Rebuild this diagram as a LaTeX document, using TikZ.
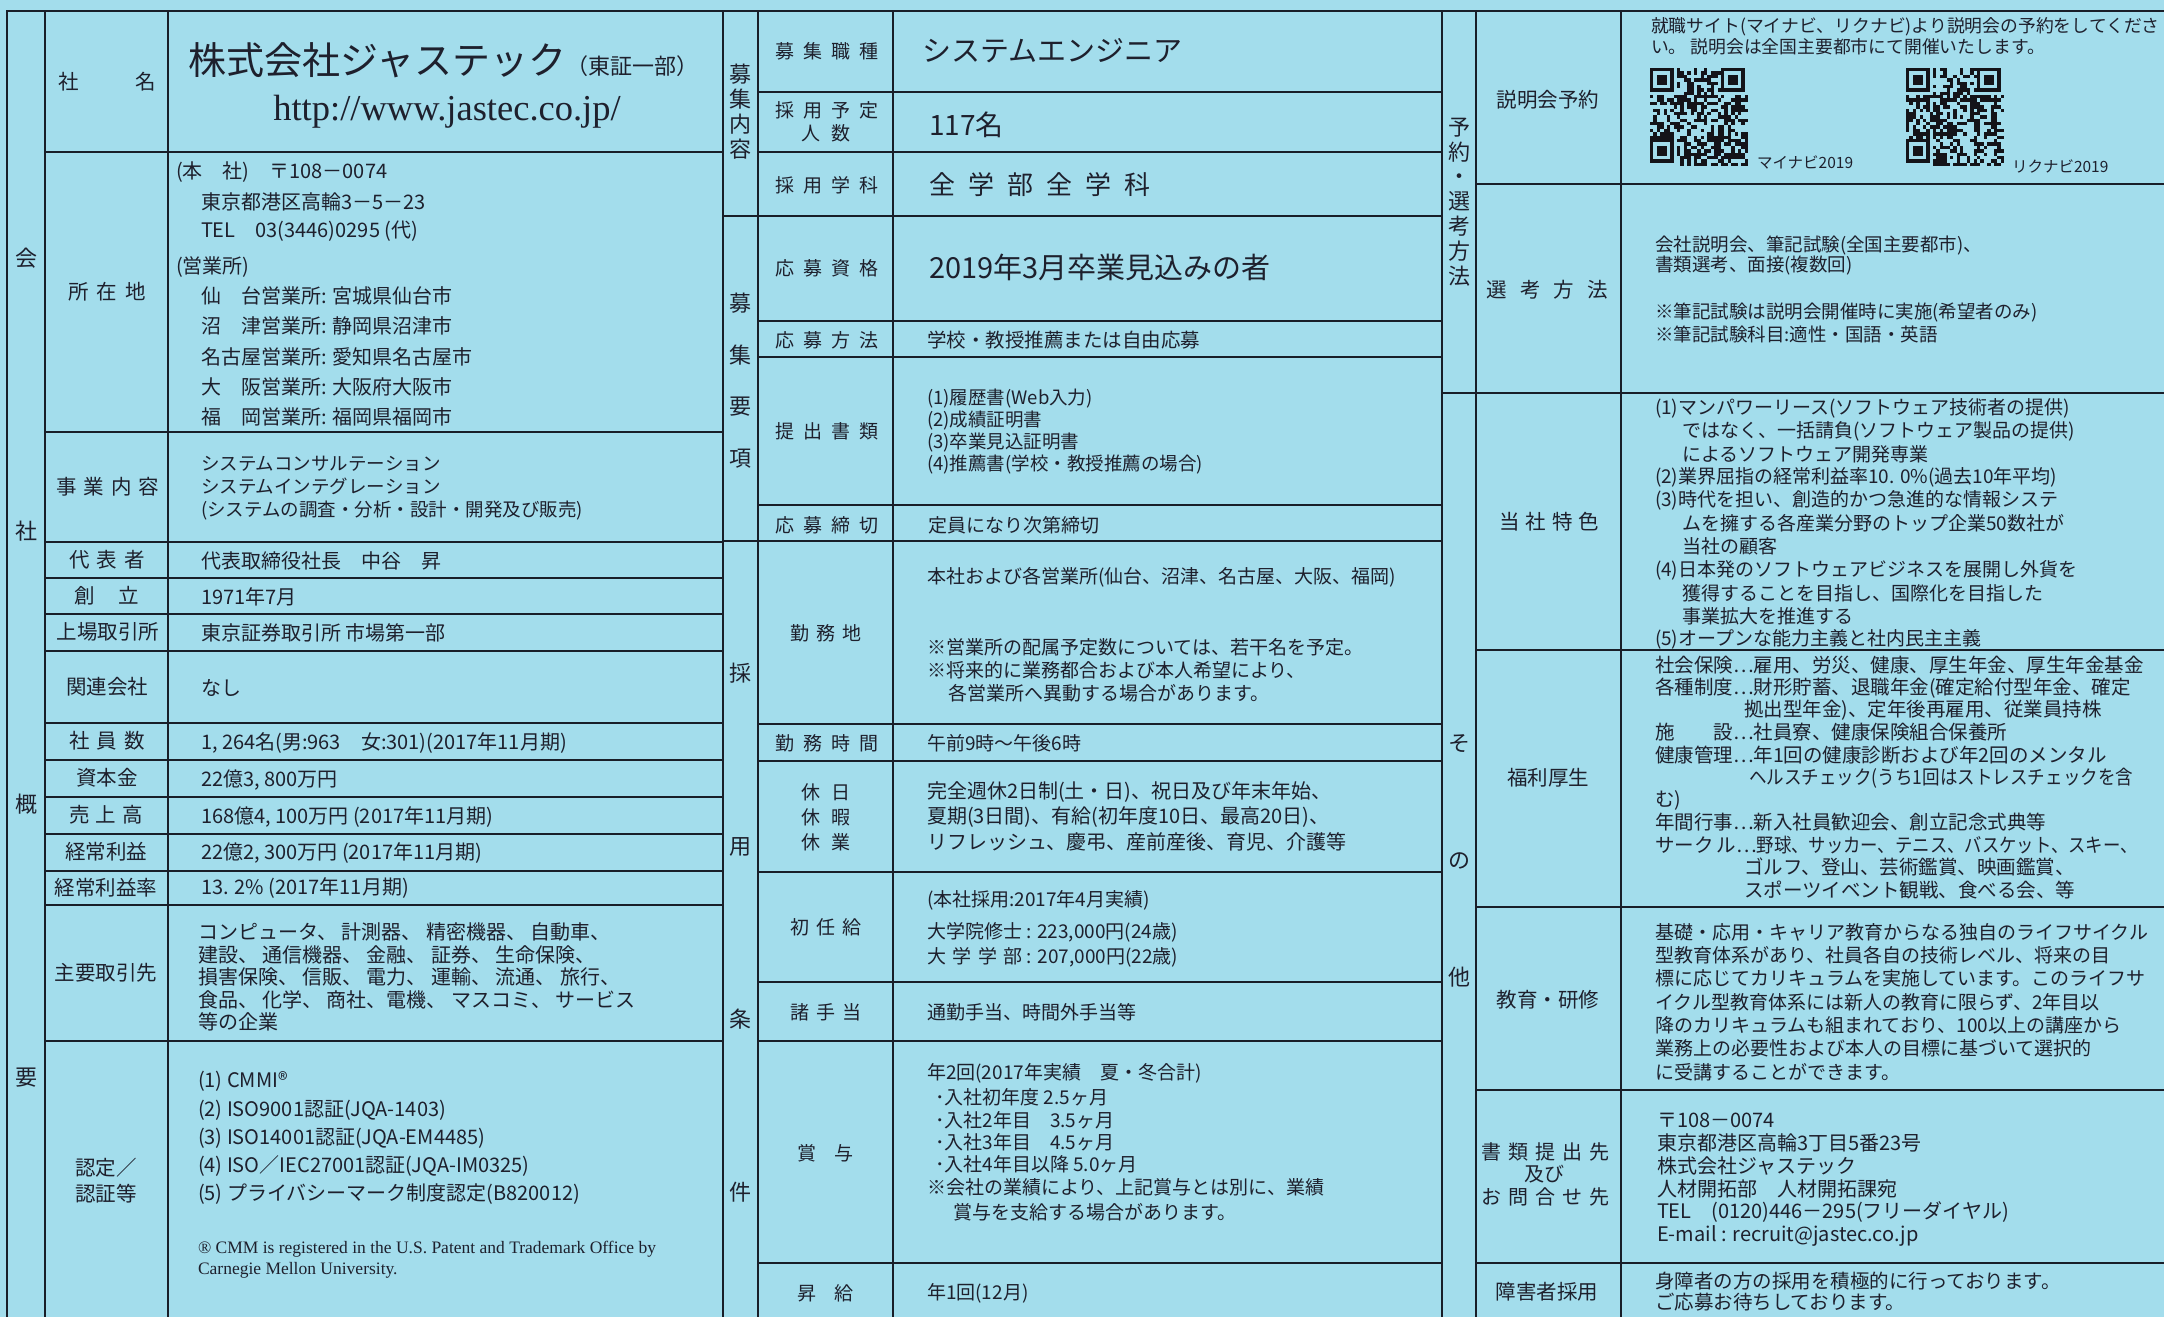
\documentclass[tikz,border=0pt]{standalone}
\usepackage{graphicx}
\usepackage{fontspec}
\setmainfont{Noto Sans CJK JP}
\newfontfamily\lserif{Liberation Serif}
\definecolor{bgC}{RGB}{163,221,236}
\definecolor{lineC}{RGB}{25,30,40}
\definecolor{textC}{RGB}{30,32,45}
\definecolor{qrC}{RGB}{20,20,25}
\newcommand\fsz[1]{\fontsize{#1}{#1}\selectfont}
\newcommand\jstrut{\rule[-0.12em]{0pt}{1em}}
\newcommand\jg[1]{\hspace{#1pt}}
\newcommand\blk[6]{\foreach \bt [count=\bk from 0] in {#6}{\node[tx,font=\fsz{#5}] (#1\bk) at (#2,{#3+\bk*#4}) {\bt};}}
\newcommand\qrdraw[3]{%
  \pgfmathsetseed{#3}%
  \foreach \qi in {0,...,28}{%
    \foreach \qj in {0,...,28}{%
      \pgfmathrandominteger{\qr}{0}{1}%
      \pgfmathtruncatemacro{\qf}{((\qi<8)*(\qj<8))+((\qi>20)*(\qj<8))+((\qi<8)*(\qj>20))}%
      \ifnum\qf=0\relax\ifnum\qr=1\relax
        \fill[qrC] ({#1+\qi*3.38},{#2+\qj*3.38}) rectangle ++(3.38,3.38);
      \fi\fi
    }%
  }%
  \foreach \ox/\oy in {0/0,21/0,0/21}{%
    \fill[qrC] ({#1+\ox*3.38},{#2+\oy*3.38}) rectangle ++(23.66,23.66);
    \fill[bgC] ({#1+\ox*3.38+3.38},{#2+\oy*3.38+3.38}) rectangle ++(16.9,16.9);
    \fill[qrC] ({#1+\ox*3.38+6.76},{#2+\oy*3.38+6.76}) rectangle ++(10.14,10.14);
  }%
}
\begin{document}
\begin{tikzpicture}[x=1pt,y=-1pt,
  tline/.style={line width=2.2pt, draw=lineC, line cap=rect},
  tx/.style={anchor=west, inner sep=0pt, outer sep=0pt, text=textC, execute at begin node=\jstrut},
  lab/.style={anchor=center, inner sep=0pt, outer sep=0pt, text=textC, execute at begin node=\jstrut, font=\fsz{20.5}},
  mlab/.style={lab, font=\fsz{19}},
  grp/.style={lab, font=\fsz{22}}]
\fill[bgC] (0,0) rectangle (2164,1317);
\useasboundingbox (0,0) rectangle (2164,1317);
% ---------- grid ----------
\draw[tline] (7,11) -- (2164,11);
\foreach \x in {7,45,168,723,758,893,1442,1476,1621} \draw[tline] (\x,11) -- (\x,1317);
\foreach \y in {152,432,542,578,614,651,723,760,797,834,871,905,1041} \draw[tline] (45,\y) -- (723,\y);
\foreach \y in {92,152,321,357,505,724,761,872,982,1041,1263} \draw[tline] (758,\y) -- (1442,\y);
\foreach \y in {216,541} \draw[tline] (723,\y) -- (1442,\y);
\foreach \y in {184,650,907,1090,1263} \draw[tline] (1476,\y) -- (2164,\y);
\draw[tline] (1442,393) -- (2164,393);
% ---------- group labels ----------
\foreach \c [count=\k from 0] in {会,社,概,要} \node[grp] (ga\k) at (26,{258+\k*273}) {\c};
\foreach \c [count=\k from 0] in {募,集,内,容} \node[grp] (gb\k) at (740.5,{74+\k*25}) {\c};
\foreach \c [count=\k from 0] in {募,集,要,項} \node[grp] (gc\k) at (740.5,{303+\k*51.7}) {\c};
\foreach \c [count=\k from 0] in {採,用,条,件} \node[grp] (gd\k) at (740.5,{673+\k*173}) {\c};
\foreach \c [count=\k from 0] in {予,約,・,選,考,方,法} \node[grp] (ge\k) at (1459,{127+\k*24.8}) {\c};
\foreach \c [count=\k from 0] in {そ,の,他} \node[grp] (gf\k) at (1459,{743+\k*117}) {\c};
% ---------- left labels ----------
\node[lab] (l1) at (107,82) {社\jg{57}名};
\node[lab] (l2) at (107,292) {所\jg8在\jg8地};
\node[lab] (l3) at (108,487) {事\jg7業\jg7内\jg7容};
\node[lab] (l4) at (107,560) {代\jg7表\jg7者};
\node[lab] (l5) at (107,596) {創\jg{24}立};
\node[lab] (l6) at (108,632) {上場取引所};
\node[lab] (l7) at (107,687) {関連会社};
\node[lab] (l8) at (107,741) {社\jg7員\jg7数};
\node[lab] (l9) at (107,778) {資本金};
\node[lab] (l10) at (106,815) {売\jg6上\jg6高};
\node[lab] (l11) at (106,852) {経常利益};
\node[lab] (l12) at (106,888) {経常利益率};
\node[lab] (l13) at (106,973) {主要取引先};
\node[lab,anchor=west] (l14a) at (75,1168) {認定／};
\node[lab,anchor=west] (l14b) at (75,1194) {認証等};
% ---------- left content ----------
\node[anchor=base west, inner sep=0pt, text=textC] (cname) at (188,74.5) {\fsz{38}株式会社ジャステック\fsz{22}（東証一部）};
\node[lab, font=\lserif\fsz{36.5}] (url) at (447,108) {http://www.jastec.co.jp/};
\node[tx,font=\fsz{20}] (hq) at (176,172) {(本　社)　〒108－0074};
\blk{ad}{201}{202}{29}{20}{東京都港区高輪3－5－23,TEL　03(3446)0295 (代)}
\node[tx,font=\fsz{20}] (br) at (176,267) {(営業所)};
\blk{brs}{201}{296}{30.25}{20}{仙　台営業所: 宮城県仙台市,沼　津営業所: 静岡県沼津市,名古屋営業所: 愛知県名古屋市,大　阪営業所: 大阪府大阪市,福　岡営業所: 福岡県福岡市}
\blk{biz}{201}{463}{23.5}{18.5}{システムコンサルテーション,システムインテグレーション,(システムの調査・分析・設計・開発及び販売)}
\node[tx,font=\fsz{20}] (rep) at (201,561) {代表取締役社長　中谷　昇};
\node[tx,font=\fsz{20}] (est) at (201,597) {1971年7月};
\node[tx,font=\fsz{20}] (lst) at (201,633) {東京証券取引所 市場第一部};
\node[tx,font=\fsz{20}] (rel) at (201,688) {なし};
\node[tx,font=\fsz{20}] (emp) at (201,743) {1, 264名(男:963　女:301)(2017年11月期)};
\node[tx,font=\fsz{20}] (capi) at (201,780) {22億3, 800万円};
\node[tx,font=\fsz{20}] (sal) at (201,817) {168億4, 100万円 (2017年11月期)};
\node[tx,font=\fsz{20}] (ord) at (201,853) {22億2, 300万円 (2017年11月期)};
\node[tx,font=\fsz{20}] (orr) at (201,888) {13. 2\% (2017年11月期)};
\blk{cli}{198}{932}{22.5}{20}{コンピュータ、 計測器、 精密機器、 自動車、,建設、 通信機器、 金融、 証券、 生命保険、,損害保険、 信販、 電力、 運輸、 流通、 旅行、,食品、 化学、 商社、電機、 マスコミ、 サービス,等の企業}
\blk{cert}{198}{1081}{28.2}{20}{(1) CMMI®,(2) ISO9001認証(JQA-1403),(3) ISO14001認証(JQA-EM4485),(4) ISO／IEC27001認証(JQA-IM0325),(5) プライバシーマーク制度認定(B820012)}
\node[tx,font=\lserif\fsz{17.5}] (fn0) at (198,1248) {® CMM is registered in the U.S. Patent and Trademark Office by};
\node[tx,font=\lserif\fsz{17.5}] (fn1) at (198,1269) {Carnegie Mellon University.};
% ---------- middle labels ----------
\node[mlab] (m1) at (827,51) {募\jg{8.7}集\jg{8.7}職\jg{8.7}種};
\node[mlab] (m2a) at (827,110) {採\jg{8.7}用\jg{8.7}予\jg{8.7}定};
\node[mlab] (m2b) at (826,133) {人\jg{11}数};
\node[mlab] (m3) at (827,185) {採\jg{8.7}用\jg{8.7}学\jg{8.7}科};
\node[mlab] (m4) at (827,268) {応\jg{8.7}募\jg{8.7}資\jg{8.7}格};
\node[mlab] (m5) at (827,340) {応\jg{8.7}募\jg{8.7}方\jg{8.7}法};
\node[mlab] (m6) at (827,431) {提\jg{8.7}出\jg{8.7}書\jg{8.7}類};
\node[mlab] (m7) at (827,525) {応\jg{8.7}募\jg{8.7}締\jg{8.7}切};
\node[mlab] (m8) at (826,633) {勤\jg{7.5}務\jg{7.5}地};
\node[mlab] (m9) at (827,743) {勤\jg{8.7}務\jg{8.7}時\jg{8.7}間};
\node[mlab] (m10a) at (826,792) {休\jg{11}日};
\node[mlab] (m10b) at (826,817) {休\jg{11}暇};
\node[mlab] (m10c) at (826,842) {休\jg{11}業};
\node[mlab] (m11) at (826,927) {初\jg{7.5}任\jg{7.5}給};
\node[mlab] (m12) at (826,1012) {諸\jg{7.5}手\jg{7.5}当};
\node[mlab] (m13) at (825,1153) {賞\jg{18}与};
\node[mlab] (m14) at (825,1293) {昇\jg{18}給};
% ---------- middle content ----------
\node[tx,font=\fsz{29}] (job) at (922,50) {システムエンジニア};
\node[tx,font=\fsz{28}] (num) at (929,125) {117名};
\node[tx,font=\fsz{26}] (dep) at (929,185) {全\jg{13.2}学\jg{13.2}部\jg{13.2}全\jg{13.2}学\jg{13.2}科};
\node[tx,font=\fsz{29}] (qual) at (929,267) {2019年3月卒業見込みの者};
\node[tx,font=\fsz{19.5}] (meth) at (927,340) {学校・教授推薦または自由応募};
\blk{doc}{927}{398}{22}{18.5}{(1)履歴書(Web入力),(2)成績証明書,(3)卒業見込証明書,(4)推薦書(学校・教授推薦の場合)}
\node[tx,font=\fsz{19}] (dl) at (928,525) {定員になり次第締切};
\node[tx,font=\fsz{19}] (wp) at (927,577) {本社および各営業所(仙台、沼津、名古屋、大阪、福岡)};
\blk{wpn}{927}{647}{23}{19}{※営業所の配属予定数については、若干名を予定。,※将来的に業務都合および本人希望により、,\hspace{21pt}各営業所へ異動する場合があります。}
\node[tx,font=\fsz{19}] (wh) at (927,743) {午前9時～午後6時};
\blk{hol}{927}{792}{25}{20}{完全週休2日制(土・日)、祝日及び年末年始、,夏期(3日間)、有給(初年度10日、最高20日)、,リフレッシュ、慶弔、産前産後、育児、介護等}
\node[tx,font=\fsz{19}] (sp0) at (927,900) {(本社採用:2017年4月実績)};
\node[tx,font=\fsz{19}] (sp1) at (927,932) {大学院修士 : 223,000円(24歳)};
\node[tx,font=\fsz{19}] (sp2) at (927,957) {大\jg{6.5}学\jg{6.5}学\jg{6.5}部 : 207,000円(22歳)};
\node[tx,font=\fsz{19}] (alw) at (927,1012) {通勤手当、時間外手当等};
\node[tx,font=\fsz{19}] (bo0) at (927,1073) {年2回(2017年実績　夏・冬合計)};
\node[tx,font=\fsz{19}] (bo1) at (935,1097) {･入社初年度 2.5ヶ月};
\node[tx,font=\fsz{19}] (bo2) at (935,1120) {･入社2年目　3.5ヶ月};
\node[tx,font=\fsz{19}] (bo3) at (935,1142) {･入社3年目　4.5ヶ月};
\node[tx,font=\fsz{19}] (bo4) at (935,1164) {･入社4年目以降 5.0ヶ月};
\node[tx,font=\fsz{19}] (bo5) at (927,1187) {※会社の業績により、上記賞与とは別に、業績};
\node[tx,font=\fsz{19}] (bo6) at (953,1212) {賞与を支給する場合があります。};
\node[tx,font=\fsz{19}] (rai) at (927,1293) {年1回(12月)};
% ---------- right labels ----------
\node[lab] (r1) at (1548,100) {説明会予約};
\node[lab] (r2) at (1547,290) {選\jg{13}考\jg{13}方\jg{13}法};
\node[lab] (r3) at (1549,522) {当\jg6社\jg6特\jg6色};
\node[lab] (r4) at (1548,778) {福利厚生};
\node[lab] (r5) at (1548,1000) {教育・研修};
\node[lab,font=\fsz{20}] (r6a) at (1545,1152) {書\jg7類\jg7提\jg7出\jg7先};
\node[lab,font=\fsz{20}] (r6b) at (1544,1174) {及び};
\node[lab,font=\fsz{20}] (r6c) at (1545,1197) {お\jg7問\jg7合\jg7せ\jg7先};
\node[lab] (r7) at (1547,1292) {障害者採用};
% ---------- right content ----------
\blk{rs}{1651}{26}{21}{17.8}{就職サイト(マイナビ、リクナビ)より説明会の予約をしてくださ,い。 説明会は全国主要都市にて開催いたします。}
\qrdraw{1650}{68}{7}
\qrdraw{1906}{68}{19}
\node[tx,font=\fsz{15.5}] (mn) at (1757,163) {マイナビ2019};
\node[tx,font=\fsz{15.5}] (rn) at (2012,167) {リクナビ2019};
\node[tx,font=\fsz{18.5}] (se0) at (1655,245) {会社説明会、筆記試験(全国主要都市)、};
\node[tx,font=\fsz{18.5}] (se1) at (1655,265) {書類選考、面接(複数回)};
\node[tx,font=\fsz{18.5}] (se2) at (1655,312) {※筆記試験は説明会開催時に実施(希望者のみ)};
\node[tx,font=\fsz{18.5}] (se3) at (1655,334) {※筆記試験科目:適性・国語・英語};
\blk{ft}{1655}{408}{23.1}{19}{(1)マンパワーリース(ソフトウェア技術者の提供),\hspace{27pt}ではなく、一括請負(ソフトウェア製品の提供),\hspace{27pt}によるソフトウェア開発専業,(2)業界屈指の経常利益率10. 0\%(過去10年平均),(3)時代を担い、創造的かつ急進的な情報システ,\hspace{27pt}ムを擁する各産業分野のトップ企業50数社が,\hspace{27pt}当社の顧客,(4)日本発のソフトウェアビジネスを展開し外貨を,\hspace{27pt}獲得することを目指し、国際化を目指した,\hspace{27pt}事業拡大を推進する,(5)オープンな能力主義と社内民主主義}
\blk{wf}{1655}{665}{22.5}{19.5}{社会保険…雇用、労災、健康、厚生年金、厚生年金基金,各種制度…財形貯蓄、退職年金(確定給付型年金、確定,\hspace{89pt}拠出型年金)、定年後再雇用、従業員持株,施　　設…社員寮、健康保険組合保養所,健康管理…年1回の健康診断および年2回のメンタル,\hspace{94pt}\scalebox{0.9}[1]{ヘルスチェック(うち1回はストレスチェックを含},む),年間行事…新入社員歓迎会、創立記念式典等,サーク\hspace{3pt}ル…\scalebox{0.89}[1]{野球、サッカー、テニス、バスケット、スキー、},\hspace{89pt}ゴルフ、登山、芸術鑑賞、映画鑑賞、,\hspace{89pt}スポーツイベント観戦、食べる会、等}
\blk{ed}{1655}{932}{23.3}{19}{基礎・応用・キャリア教育からなる独自のライフサイクル,型教育体系があり、社員各自の技術レベル、将来の目,標に応じてカリキュラムを実施しています。このライフサ,イクル型教育体系には新人の教育に限らず、2年目以,降のカリキュラムも組まれており、100以上の講座から,業務上の必要性および本人の目標に基づいて選択的,に受講することができます。}
\blk{ct}{1657}{1120}{23}{20}{〒108－0074,東京都港区高輪3丁目5番23号,株式会社ジャステック,人材開拓部　人材開拓課宛,TEL　(0120)446－295(フリーダイヤル),E-mail : recruit@jastec.co.jp}
\blk{hd}{1655}{1281}{21}{19.5}{身障者の方の採用を積極的に行っております。,ご応募お待ちしております。}
\end{tikzpicture}
\end{document}
